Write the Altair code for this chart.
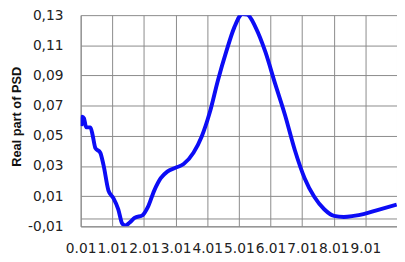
import altair as alt
import pandas as pd

# Curve
x_vals = [0.03, 0.06, 0.112, 0.185, 0.319, 0.391, 0.474, 0.629, 0.732, 0.888,
          1.043, 1.198, 1.322, 1.425, 1.559, 1.714, 1.973, 2.128, 2.335, 2.541,
          2.748, 3.006, 3.265, 3.575, 3.833, 4.092, 4.35, 4.609, 4.867, 5.125,
          5.28, 5.539, 5.849, 6.159, 6.469, 6.779, 7.089, 7.399, 7.709, 8.019,
          8.329, 8.639, 8.949, 9.363, 10.0]
psd_vals = [0.0564, 0.0627, 0.0617, 0.0556, 0.0556, 0.050, 0.0419, 0.0388, 0.0306, 0.0137,
            0.0087, 0.0013, -0.0081, -0.0094, -0.0075, -0.0044, -0.0025, 0.0025, 0.0137, 0.0219,
            0.0263, 0.0288, 0.0313, 0.0388, 0.0494, 0.0656, 0.0869, 0.1056, 0.1219, 0.1308,
            0.1304, 0.1219, 0.1056, 0.0844, 0.0638, 0.0406, 0.0219, 0.0094, 0.0013, -0.0031,
            -0.0038, -0.0031, -0.0019, 0.0006, 0.0044]

x_ticks = [0.01, 1.01, 2.01, 3.01, 4.01, 5.01, 6.01, 7.01, 8.01, 9.01, 10.01]
y_ticks = [-0.01, -0.005, 0.01, 0.03, 0.05, 0.07, 0.09, 0.11, 0.13]

df = pd.DataFrame({"x": x_vals, "y": psd_vals})

grid_col = "#8a8a8a"
font = "DejaVu Sans"

chart = alt.Chart(df).mark_line(color="#0c0cf5", strokeWidth=4, clip=True,
                                interpolate="monotone").encode(
    x=alt.X("x:Q", scale=alt.Scale(domain=[0.01, 10.01], nice=False, zero=False),
            axis=alt.Axis(values=x_ticks, title=None, ticks=False, labelOverlap=False,
                          labelBound=False, labelFlush=False,
                          labelExpr="datum.value > 10 ? '' : format(datum.value, '.2f')",
                          labelFont=font, labelFontSize=14, labelColor="#222222",
                          labelPadding=16, grid=True, gridColor=grid_col, gridOpacity=1,
                          domainColor=grid_col)),
    y=alt.Y("y:Q", scale=alt.Scale(domain=[-0.01, 0.13], nice=False, zero=False),
            axis=alt.Axis(values=y_ticks, title="Real part of PSD", ticks=False,
                          labelOverlap=False, labelBound=False, labelFlush=False,
                          labelExpr="datum.value > -0.007 && datum.value < -0.003 ? '' : (datum.value < 0 ? '-' : '') + replace(format(abs(datum.value), '.2f'), '.', ',')",
                          labelFont=font, labelFontSize=14, labelColor="#222222",
                          labelPadding=18, grid=True, gridColor=grid_col, gridOpacity=1,
                          domainColor=grid_col,
                          titleFont="Liberation Sans", titleFontSize=13, titleFontWeight="bold",
                          titleColor="#111111", titleAngle=-90, titleX=-65, titleY=103,
                          titleAlign="center", titleBaseline="middle")),
).properties(
    width=322, height=215,
    padding={"left": 74, "top": 5, "right": 0, "bottom": 32},
    autosize=alt.AutoSizeParams(type="none"),
).configure_view(stroke=None)

chart.save("out.html", embed_options={"renderer": "svg", "actions": False})
